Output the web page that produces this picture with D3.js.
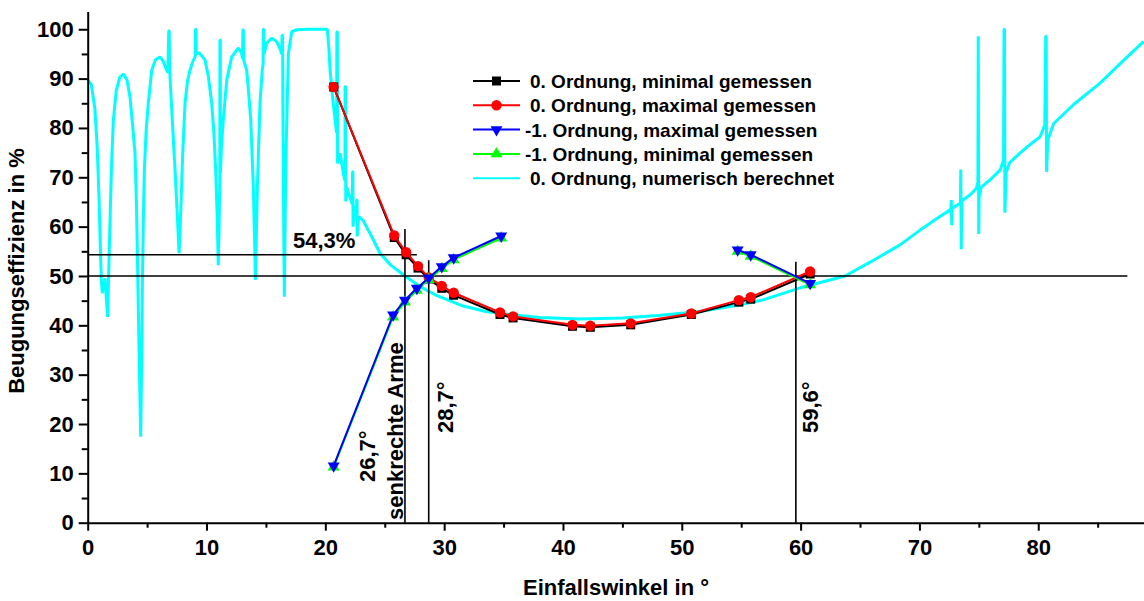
<!DOCTYPE html>
<html>
<head>
<meta charset="utf-8">
<script src="https://cdn.jsdelivr.net/npm/d3@7"></script>
<style>
  body { margin: 0; background: #fff; }
  text { font-family: Arial, "Liberation Sans", sans-serif; font-weight: bold; fill: #000; }
  .tick text { font-size: 22px; }
  .axis path, .axis line { stroke: #000; stroke-width: 2; }
</style>
</head>
<body>
<script>
// Measured data, 0. Ordnung
var angle0 = [20.7, 25.8, 26.8, 27.8, 28.7, 29.8, 30.8, 34.7, 35.8, 40.8, 42.3, 45.7, 50.8, 54.8, 55.8, 60.8];
var min0 = [88.3, 57.8, 54.3, 51.6, 49.4, 47.5, 46.1, 42.2, 41.5, 39.8, 39.6, 40.1, 42.2, 44.7, 45.3, 50.4];
var max0 = [88.3, 58.2, 54.8, 52.0, 49.7, 48.0, 46.6, 42.6, 41.8, 40.1, 39.9, 40.4, 42.4, 45.1, 45.7, 50.9];

// Measured data, -1. Ordnung (null = gap)
var angle1 = [20.7, 25.7, 26.7, 27.7, 28.7, 29.8, 30.8, 34.8, null, 54.7, 55.8, 60.8];
var max1 = [11.5, 42.1, 45.1, 47.5, 49.6, 51.9, 53.7, 58.1, null, 55.3, 54.3, 48.5];
var min1 = [11.3, 41.7, 44.7, 47.1, 49.3, 51.5, 53.3, 57.7, null, 55.0, 54.0, 48.2];

// Numerically calculated curve, 0. Ordnung
var calcAngle = [0, 0.3, 0.6, 0.8, 0.95, 1.05, 1.15, 1.23, 1.35, 1.46, 1.55, 1.68, 1.78, 1.88, 2.0, 2.16, 2.4, 2.7, 3.0, 3.3,
  3.56, 3.8, 3.98, 4.1, 4.18, 4.3, 4.46, 4.54, 4.6, 4.68, 4.77, 4.92, 5.1, 5.39, 5.7, 6.09, 6.35, 6.6, 6.75, 6.82,
  6.86, 6.9, 7.0, 7.12, 7.35, 7.55, 7.69, 7.8, 7.9, 8.0, 8.19, 8.4, 8.61, 8.85, 9.05, 9.07, 9.11, 9.13, 9.4, 9.87,
  10.15, 10.44, 10.62, 10.77, 10.9, 10.99, 11.07, 11.12, 11.13, 11.16, 11.17, 11.25, 11.41, 11.7, 12.12, 12.68, 12.95, 13.03, 13.06, 13.1,
  13.12, 13.38, 13.55, 13.72, 13.94, 14.05, 14.11, 14.2, 14.28, 14.5, 14.7, 14.76, 14.78, 14.82, 14.84, 15.07, 15.49, 15.9, 16.2, 16.33,
  16.36, 16.4, 16.42, 16.47, 16.55, 16.62, 16.69, 16.89, 17.17, 17.6, 18.5, 20.17, 20.3, 20.4, 20.6, 20.82, 20.95, 20.97, 21.01, 21.03,
  21.24, 21.5, 21.65, 21.66, 21.7, 21.72, 21.8, 22.0, 22.28, 22.29, 22.32, 22.33, 22.5, 22.62, 22.64, 22.67, 22.68, 22.8, 22.92, 23.2,
  24.0, 24.6, 25.5, 26.7, 28.0, 29.4, 31.6, 33.5, 35.9, 38.0, 41.4, 45.0, 48.0, 51.5, 54.8, 56.9, 59.96, 63.75, 66.0, 68.3,
  70.0, 71.5, 72.65, 72.68, 72.72, 72.75, 73.45, 73.48, 73.52, 73.56, 74.3, 74.8, 74.92, 74.95, 74.99, 75.02, 75.2, 76.0, 76.8, 77.08,
  77.12, 77.16, 77.19, 77.3, 77.6, 78.5, 79.5, 80.15, 80.55, 80.63, 80.67, 80.7, 80.8, 81.3, 83.0, 85.2, 87.0, 88.86];
var calcEff = [89.8, 88.8, 84, 76, 66, 57, 49, 46.5, 48.5, 49.5, 46, 41.7, 52, 61.3, 72, 81.6, 87.5, 90.3, 90.9, 89.8,
  86.3, 80, 74.9, 65, 54.6, 38, 17.4, 33, 47.8, 61, 71.5, 79.5, 85, 91.7, 93.8, 94.4, 93.5, 92, 91.2, 99.7,
  99.7, 91.6, 87, 81.6, 71.5, 62, 54.6, 61, 68.1, 75, 85, 89.5, 91.7, 93.5, 94.5, 100, 100, 95.1, 95.2, 93.8,
  90.5, 85, 79, 71.5, 62, 52.2, 62, 70, 97.8, 97.8, 70.9, 76, 81.6, 89.7, 94.4, 96.2, 95.2, 94, 99.9, 99.9,
  93.8, 91.7, 87, 81.6, 68.1, 57, 49.2, 59, 68.1, 85, 92, 93, 100, 100, 95, 97.2, 98.2, 97.5, 96, 95,
  98.8, 98.8, 88.4, 68.1, 45.8, 62, 74.9, 95.1, 99.5, 99.9, 100, 100, 96, 91.7, 86.5, 81.6, 79, 99.5, 99.5, 72.8,
  74.9, 71, 69.3, 88.4, 88.4, 65.1, 68, 66.5, 64.5, 71.1, 71.1, 60, 64.2, 63.5, 65.4, 65.4, 58, 62, 61.8, 61.2,
  57.5, 54.6, 52.2, 50, 47.8, 46, 43.9, 42.8, 42.1, 41.6, 41.3, 41.5, 42, 42.8, 44.1, 45.2, 47.6, 50, 53, 56.2,
  59.2, 61.7, 63.5, 65.4, 60.3, 63.7, 64.8, 71.6, 55.4, 65.2, 66.5, 67.8, 69, 98.6, 58.5, 66, 68, 69.6, 71.5, 73.5,
  100, 100, 62.8, 71, 73, 75, 77, 78.2, 80.6, 98.6, 98.6, 71.1, 77.5, 80.9, 84.8, 89.1, 93.3, 97.5];

// Series descriptions (legend order)
var seriesNames = ["0. Ordnung, minimal gemessen", "0. Ordnung, maximal gemessen",
                   "-1. Ordnung, maximal gemessen", "-1. Ordnung, minimal gemessen",
                   "0. Ordnung, numerisch berechnet"];
var seriesColors = ["#000000", "#ff0000", "#0000ff", "#00ff00", "#00ffff"];
var seriesMarkers = ["square", "circle", "down", "up", "none"];

// Reference lines and annotations
var hLines = [{v: 50, from: 0, to: 87.5}, {v: 54.3, from: 0, to: 27.7}];
var vLines = [{v: 26.7, from: 0, to: 59.5}, {v: 28.7, from: 0, to: 53.2}, {v: 59.6, from: 0, to: 52.9}];

var xTicks = [0, 10, 20, 30, 40, 50, 60, 70, 80];
var xMinor = [5, 15, 25, 35, 45, 55, 65, 75, 85];
var yTicks = [0, 10, 20, 30, 40, 50, 60, 70, 80, 90, 100];
var yMinor = [5, 15, 25, 35, 45, 55, 65, 75, 85, 95];

window.onload = function() {
  drawChart();
};

function zip(xs, ys) {
  return xs.map(function(d, i) { return [d, ys[i]]; });
}

function drawMarker(g, type, color, px, py) {
  if (type == "square") {
    g.append("rect").attr("x", px - 4.5).attr("y", py - 4.5)
     .attr("width", 9).attr("height", 9).attr("fill", color);
  } else if (type == "circle") {
    g.append("circle").attr("cx", px).attr("cy", py).attr("r", 5.2).attr("fill", color);
  } else if (type == "down" || type == "up") {
    var rot = type == "down" ? 180 : 0;
    g.append("path")
     .attr("d", d3.symbol().type(d3.symbolTriangle).size(62)())
     .attr("transform", "translate(" + px + "," + py + ") rotate(" + rot + ")")
     .attr("fill", color);
  }
}

function drawChart() {
  var width = 1144;
  var height = 601;
  var svg = d3.select("body").append("svg")
              .attr("width", width)
              .attr("height", height);

  var x = d3.scaleLinear().domain([0, 88.9]).range([87.7, 1144]);
  var y = d3.scaleLinear().domain([0, 103.6]).range([522.7, 11.5]);

  var line = d3.line()
               .defined(function(d) { return d[0] != null && d[1] != null; })
               .x(function(d) { return x(d[0]); })
               .y(function(d) { return y(d[1]); });

  // Calculated curve
  svg.append("path")
     .datum(zip(calcAngle, calcEff))
     .attr("d", line)
     .attr("fill", "none")
     .attr("stroke", seriesColors[4])
     .attr("stroke-width", 3)
     .attr("stroke-linejoin", "bevel");

  // Reference lines
  hLines.forEach(function(l) {
    svg.append("line")
       .attr("x1", x(l.from)).attr("x2", x(l.to))
       .attr("y1", y(l.v)).attr("y2", y(l.v))
       .attr("stroke", "#000").attr("stroke-width", 1.6);
  });
  vLines.forEach(function(l) {
    svg.append("line")
       .attr("x1", x(l.v)).attr("x2", x(l.v))
       .attr("y1", y(l.from)).attr("y2", y(l.to))
       .attr("stroke", "#000").attr("stroke-width", 1.6);
  });

  // Measured series
  var measured = [
    {data: zip(angle0, min0), idx: 0},
    {data: zip(angle0, max0), idx: 1},
    {data: zip(angle1, min1), idx: 3},
    {data: zip(angle1, max1), idx: 2}
  ];
  measured.forEach(function(s) {
    var g = svg.append("g");
    g.append("path")
     .datum(s.data)
     .attr("d", line)
     .attr("fill", "none")
     .attr("stroke", seriesColors[s.idx])
     .attr("stroke-width", 2);
    s.data.forEach(function(d) {
      if (d[0] == null) return;
      drawMarker(g, seriesMarkers[s.idx], seriesColors[s.idx], x(d[0]), y(d[1]));
    });
  });

  // Axes
  svg.append("g")
     .attr("class", "axis")
     .attr("transform", "translate(0," + y(0) + ")")
     .call(d3.axisBottom(x).tickValues(xTicks).tickSize(8).tickSizeOuter(0).tickPadding(9));
  svg.append("g")
     .attr("class", "axis")
     .attr("transform", "translate(0," + y(0) + ")")
     .call(d3.axisBottom(x).tickValues(xMinor).tickSize(5).tickFormat(""))
     .select(".domain").remove();
  svg.append("g")
     .attr("class", "axis")
     .attr("transform", "translate(" + x(0) + ",0)")
     .call(d3.axisLeft(y).tickValues(yTicks).tickSize(9).tickSizeOuter(0).tickPadding(5));
  svg.append("g")
     .attr("class", "axis")
     .attr("transform", "translate(" + x(0) + ",0)")
     .call(d3.axisLeft(y).tickValues(yMinor).tickSize(6).tickFormat(""))
     .select(".domain").remove();
  svg.selectAll(".tick text").attr("font-size", 22).style("font-weight", "bold")
     .attr("font-family", "Arial, 'Liberation Sans', sans-serif").attr("fill", "#000");

  // Axis titles
  svg.append("text")
     .text("Einfallswinkel in °")
     .attr("x", 616).attr("y", 595)
     .attr("text-anchor", "middle")
     .style("font-size", "22px");
  svg.append("text")
     .text("Beugungseffizienz in %")
     .attr("transform", "translate(24,271) rotate(-90)")
     .attr("text-anchor", "middle")
     .style("font-size", "22px");

  // Annotations
  svg.append("text").text("54,3%")
     .attr("x", 293).attr("y", 248)
     .style("font-size", "22px");
  var vLabels = [
    {t: "26,7°", x: 375, y: 482},
    {t: "senkrechte Arme", x: 403, y: 520},
    {t: "28,7°", x: 453, y: 433},
    {t: "59,6°", x: 818, y: 433}
  ];
  vLabels.forEach(function(l) {
    svg.append("text").text(l.t)
       .attr("transform", "translate(" + l.x + "," + l.y + ") rotate(-90)")
       .style("font-size", "22px");
  });

  // Legend
  var legend = svg.append("g");
  seriesNames.forEach(function(name, i) {
    var ly = 81 + i * 24.3;
    legend.append("line")
          .attr("x1", 473).attr("x2", 520)
          .attr("y1", ly).attr("y2", ly)
          .attr("stroke", seriesColors[i]).attr("stroke-width", 2);
    drawMarker(legend, seriesMarkers[i], seriesColors[i], 496.5, ly);
    legend.append("text")
          .text(name)
          .attr("x", name.charAt(0) == "-" ? 525 : 530)
          .attr("y", ly + 7)
          .style("font-size", "19px");
  });
}
</script>
</body>
</html>
